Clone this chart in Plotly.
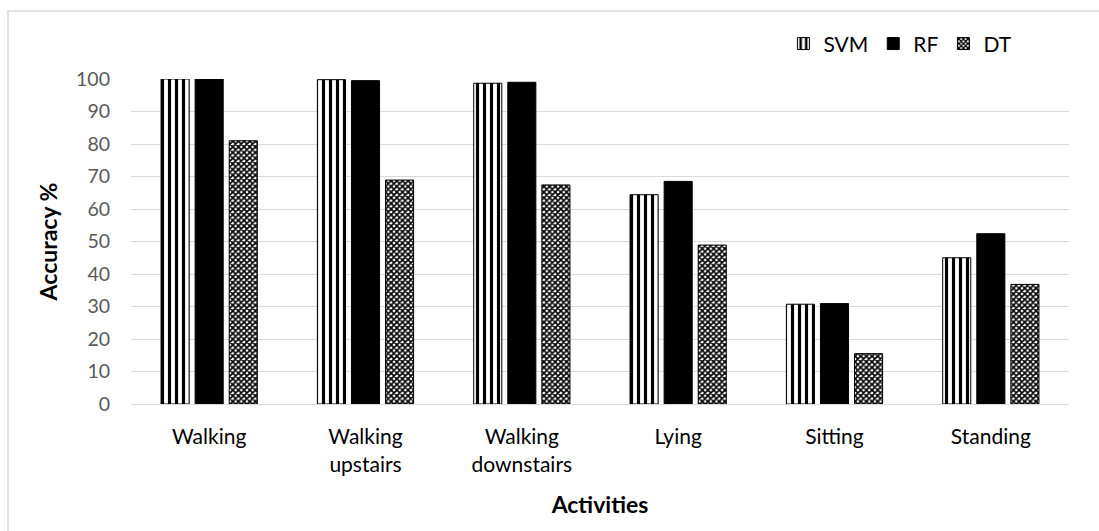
import plotly.graph_objects as go

activities = ["Walking", "Walking<br>upstairs", "Walking<br>downstairs", "Lying", "Sitting", "Standing"]
svm = [100, 99.8, 98.7, 64.4, 30.7, 45.0]
rf = [100, 99.5, 99.0, 68.5, 30.9, 52.4]
dt = [81.0, 68.9, 67.4, 48.9, 15.5, 36.8]
y_ticks = list(range(0, 101, 10))

FONT = "Lato, Open Sans, sans-serif"

fig = go.Figure()
fig.add_trace(go.Bar(
    name="SVM", x=activities, y=svm,
    marker=dict(color="white", line=dict(color="black", width=1),
                pattern=dict(shape="|", fgcolor="black", bgcolor="white",
                             size=7, solidity=0.45, fillmode="replace")),
))
fig.add_trace(go.Bar(
    name="RF", x=activities, y=rf,
    marker=dict(color="black", line=dict(color="black", width=1)),
))
fig.add_trace(go.Bar(
    name="DT", x=activities, y=dt,
    marker=dict(color="white", line=dict(color="black", width=1),
                pattern=dict(shape="x", fgcolor="black", bgcolor="white",
                             size=4, solidity=0.65, fillmode="replace")),
))

# outer chart border
fig.add_shape(type="rect", xref="paper", yref="paper",
              x0=-0.1311, x1=1.2, y0=-0.45, y1=1.209,
              line=dict(color="#d9d9d9", width=1.5), fillcolor="rgba(0,0,0,0)",
              layer="below")

fig.update_layout(
    width=1099, height=531,
    margin=dict(l=131, r=30, t=79, b=127),
    paper_bgcolor="white", plot_bgcolor="white",
    barmode="group", bargap=0.346, bargroupgap=0.176,
    font=dict(family=FONT, color="black"),
    legend=dict(orientation="h", x=0.945, xanchor="right", y=1.108, yanchor="middle",
                font=dict(size=21, color="black"), itemwidth=30,
                traceorder="normal"),
    xaxis=dict(
        title=dict(text="Activities", font=dict(size=23, weight="bold"), standoff=22),
        tickfont=dict(size=21, color="black"),
        showline=True, linecolor="#d9d9d9", linewidth=1,
        ticks="", ticklabelstandoff=14,
    ),
    yaxis=dict(
        title=dict(text="Accuracy %", font=dict(size=23, weight="bold"), standoff=12),
        range=[0, 100], tickvals=y_ticks,
        tickfont=dict(size=19.5, color="#595959"),
        showgrid=True, gridcolor="#d9d9d9", gridwidth=1,
        zeroline=True, zerolinecolor="#d9d9d9", zerolinewidth=1,
        ticks="", ticklabelstandoff=20,
    ),
)

fig.write_html("out.html")
